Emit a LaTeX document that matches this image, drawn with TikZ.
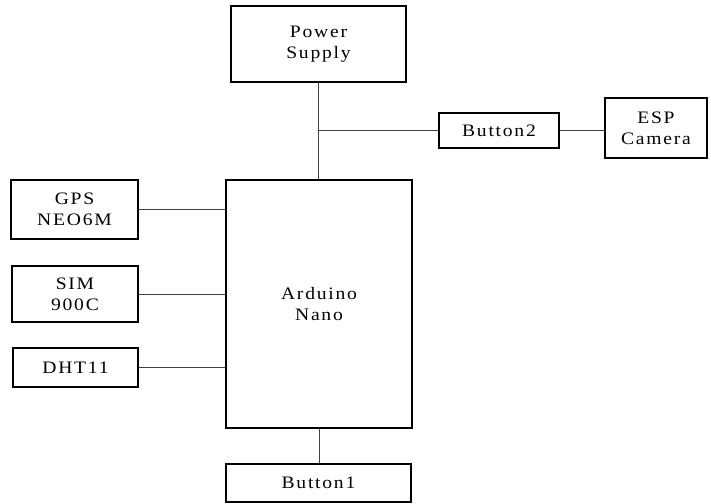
\documentclass[tikz,border=0pt]{standalone}
\usepackage{fontspec}
\setmainfont{Liberation Serif}[LetterSpace=10, FakeStretch=1.12]
\begin{document}
\begin{tikzpicture}[x=1pt,y=-1pt]
		\tikzstyle{every node}=[font=\fontsize{17.5pt}{21pt}\selectfont]
		\tikzstyle{blk}=[draw, line width=1.4pt, inner sep=0pt, align=center]
		\tikzstyle{wire}=[line width=0.9pt, draw=black!75]
		
		\useasboundingbox (0,0) rectangle (711,503);
		
		\node[blk, minimum width=175pt, minimum height=76pt] (power) at (318.5,44) {Power\\Supply};
		\node[blk, minimum width=120pt, minimum height=35pt] (button2) at (499,130.5) {Button2};
		\node[blk, minimum width=102pt, minimum height=60pt] (esp) at (656,128) {ESP\\Camera};
		\node[blk, minimum width=186pt, minimum height=248pt] (arduino) at (319,304) {Arduino\\Nano};
		\node[blk, minimum width=127pt, minimum height=59pt] (gps) at (74.5,209.5) {GPS\\NEO6M};
		\node[blk, minimum width=126pt, minimum height=56pt] (sim) at (75,294) {SIM\\900C};
		\node[blk, minimum width=125pt, minimum height=39pt] (dht) at (75.5,367.5) {DHT11};
		\node[blk, minimum width=185pt, minimum height=38pt] (button1) at (318.5,483) {Button1};
		
		\coordinate (tap) at (power.south |- button2.west);
		
		\draw[wire] (power.south) -- (power.south |- arduino.north);
		\draw[wire] (tap) -- (button2.west);
		\draw[wire] (button2.east) -- (button2.east -| esp.west);
		\draw[wire] (gps.east) -- (gps.east -| arduino.west);
		\draw[wire] (sim.east) -- (sim.east -| arduino.west);
		\draw[wire] (dht.east) -- (dht.east -| arduino.west);
		\draw[wire] (arduino.south) -- (arduino.south |- button1.north);
		
	\end{tikzpicture}
\end{document}
